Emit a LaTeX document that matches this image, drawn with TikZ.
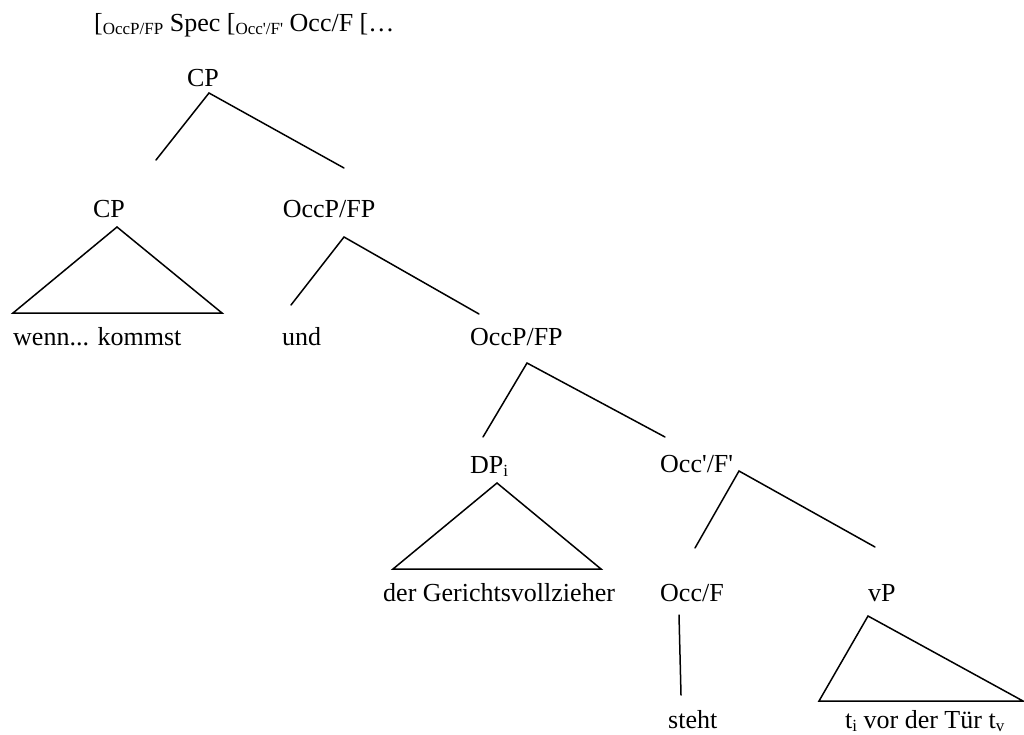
\documentclass[tikz,border=0pt]{standalone}
\usepackage{fontspec}
\setmainfont{Liberation Serif}
\newcommand{\lowidx}[1]{\raisebox{-3pt}{\fontsize{17}{20}\selectfont #1}}
\newcommand{\prm}{\textquotesingle}
\begin{document}
\begin{tikzpicture}[x=1pt,y=-1pt,
  lbl/.style={inner sep=0pt,anchor=base west,font=\fontsize{26}{31}\selectfont},
  edge/.style={line width=1.5pt,line cap=round,line join=miter}]
\useasboundingbox (0,0) rectangle (1024,734);

% labelled bracketing
\node[lbl] (hdr) at (94,31) {[\lowidx{OccP/FP} Spec [\lowidx{Occ\prm/F\prm} Occ/F […};

% tree labels
\node[lbl,anchor=base] (cp) at (203,86) {CP};
\node[lbl,anchor=base] (cpl) at (109,217) {CP};
\node[lbl,anchor=base] (occa) at (329,217) {OccP/FP};
\node[lbl] (wenn) at (13,345) {wenn... kommst};
\node[lbl] (und) at (282,345) {und};
\node[lbl] (occb) at (470,345) {OccP/FP};
\node[lbl] (dp) at (470,473) {DP\lowidx{i}};
\node[lbl] (occbar) at (660,472) {Occ\prm/F\prm};
\node[lbl] (gv) at (383,601) {der Gerichtsvollzieher};
\node[lbl] (occf) at (660,601) {Occ/F};
\node[lbl] (vp) at (868,601) {vP};
\node[lbl] (steht) at (668,728) {steht};
\node[lbl] (tuer) at (845,728) {t\lowidx{i} vor der Tür t\lowidx{v}};

% branch end points
\coordinate (cpT) at (209,93);
\coordinate (cpL) at (156,160);
\coordinate (cpR) at (344,168);
\coordinate (t1T) at (117,227);
\coordinate (t1L) at (13,313);
\coordinate (t1R) at (222,313);
\coordinate (oaT) at (344,237);
\coordinate (oaL) at (291,305);
\coordinate (oaR) at (479,314);
\coordinate (obT) at (527,363);
\coordinate (obL) at (483,437);
\coordinate (obR) at (665,437);
\coordinate (t2T) at (497,483);
\coordinate (t2L) at (393,569);
\coordinate (t2R) at (601,569);
\coordinate (ocT) at (739,471);
\coordinate (ocL) at (695,548);
\coordinate (ocR) at (875,547);
\coordinate (hdT) at (679,615);
\coordinate (hdB) at (681,695);
\coordinate (t3T) at (868,616);
\coordinate (t3L) at (819,701);
\coordinate (t3R) at (1023,701);

% branches
\draw[edge] (cpL) -- (cpT) -- (cpR);
\draw[edge] (oaL) -- (oaT) -- (oaR);
\draw[edge] (obL) -- (obT) -- (obR);
\draw[edge] (ocL) -- (ocT) -- (ocR);
\draw[edge] (hdT) -- (hdB);

% triangles
\draw[edge] (t1T) -- (t1L) -- (t1R) -- cycle;
\draw[edge] (t2T) -- (t2L) -- (t2R) -- cycle;
\draw[edge] (t3T) -- (t3L) -- (t3R) -- cycle;
\end{tikzpicture}
\end{document}
